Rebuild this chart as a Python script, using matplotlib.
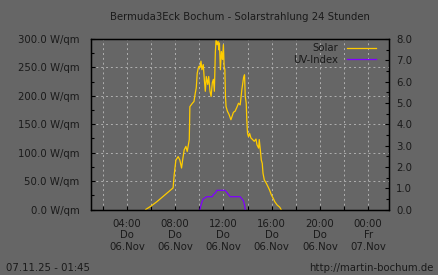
import matplotlib
matplotlib.use("Agg")
import matplotlib.pyplot as plt
from matplotlib.ticker import MultipleLocator, FixedLocator

# --- data (hours since 06.11 00:00) ---
solar_h = [5.56, 6.0, 6.5, 7.0, 7.5, 7.83, 7.92, 8.06, 8.25, 8.39, 8.53, 8.62, 8.75, 8.89, 9.00,
           9.17, 9.22, 9.43, 9.56, 9.67, 9.75, 9.83, 9.92, 9.98, 10.06, 10.14, 10.22, 10.33,
           10.42, 10.50, 10.58, 10.70, 10.78, 10.89, 10.98, 11.08, 11.17, 11.25, 11.33, 11.39,
           11.48, 11.56, 11.62, 11.67, 11.75, 11.83, 11.92, 12.0, 12.06, 12.12, 12.17, 12.22,
           12.33, 12.47, 12.62, 12.72, 12.83, 12.97, 13.12, 13.25, 13.39, 13.53, 13.67, 13.75,
           13.81, 13.89, 13.95, 14.0, 14.08, 14.17, 14.28, 14.42, 14.56, 14.70, 14.78, 14.92,
           14.97, 15.06, 15.14, 15.22, 15.28, 15.39, 15.56, 15.70, 15.83, 15.97, 16.12, 16.25,
           16.45, 16.67, 16.78]
solar_w = [0, 6, 14, 23, 32, 38, 61, 87, 93, 87, 73, 87, 105, 111, 102,
           123, 181, 187, 190, 205, 214, 240, 249, 252, 250, 261, 246, 255,
           228, 208, 234, 220, 234, 208, 199, 223, 229, 208, 276, 299,
           290, 296, 281, 293, 246, 278, 264, 290, 252, 246, 199, 181,
           173, 167, 158, 164, 171, 173, 180, 187, 184, 211, 232, 237,
           199, 187, 152, 134, 128, 134, 126, 123, 120, 124, 114, 108,
           123, 105, 87, 81, 64, 52, 46, 40, 34, 26, 20, 14,
           8, 4, 0]

uv_h = [10.06, 10.14, 10.25, 10.33, 10.62, 11.08, 11.17, 11.37, 11.45, 11.72, 11.87, 12.14,
        12.28, 12.56, 13.39, 13.53, 13.67, 13.75, 13.81]
uv_v = [0.0, 0.2, 0.4, 0.5, 0.6, 0.6, 0.7, 0.8, 0.9, 0.9, 0.9, 0.9,
        0.8, 0.6, 0.6, 0.5, 0.4, 0.2, 0.0]

tick_hours = [4, 8, 12, 16, 20, 24]
tick_labels = ["04:00\nDo\n06.Nov", "08:00\nDo\n06.Nov", "12:00\nDo\n06.Nov",
               "16:00\nDo\n06.Nov", "20:00\nDo\n06.Nov", "00:00\nFr\n07.Nov"]

title = "Bermuda3Eck Bochum - Solarstrahlung 24 Stunden"
stamp = "07.11.25 - 01:45"
url = "http://martin-bochum.de"

BG = "#666666"
TXT = "#1a1a1a"
FS = 7.3

plt.rcParams['font.family'] = ['DejaVu Sans']
fig = plt.figure(figsize=(4.38, 2.75), dpi=100, facecolor=BG)
ax = fig.add_axes([90.7/438, 1-209.5/275, (389.3-90.7)/438, (209.5-39)/275])
ax.set_facecolor(BG)
ax2 = ax.twinx()

ax.plot(solar_h, solar_w, color="#ffcc00", lw=0.9, label="Solar")
ax2.plot(uv_h, uv_v, color="#8000ff", lw=0.9, label="UV-Index")

ax.set_xlim(1.0, 25.75)
ax.set_ylim(0, 300)
ax2.set_ylim(0, 8)

ax.xaxis.set_major_locator(FixedLocator(tick_hours))
ax.set_xticklabels(tick_labels, fontsize=FS, color=TXT, linespacing=1.15)
ax.xaxis.set_minor_locator(MultipleLocator(2))
ax.yaxis.set_major_locator(MultipleLocator(50))
ax.yaxis.set_minor_locator(MultipleLocator(25))
ax.yaxis.set_major_formatter(lambda v, p: f"{v:.1f} W/qm")
ax2.yaxis.set_major_locator(MultipleLocator(1))
ax2.yaxis.set_minor_locator(MultipleLocator(0.5))
ax2.yaxis.set_major_formatter(lambda v, p: f"{v:.1f}")

ax.grid(True, axis='x', which='both', color="#b0b0b0", ls=(0, (2, 3)), lw=0.7)
ax.grid(True, axis='y', which='major', color="#b0b0b0", ls=(0, (2, 3)), lw=0.7)

ax.tick_params(axis='x', which='both', direction='in', length=3, width=0.8, pad=7,
               colors='black', labelcolor=TXT)
ax.tick_params(axis='y', which='major', direction='in', length=3, width=0.8, pad=8,
               labelsize=FS, colors='black', labelcolor=TXT)
ax.tick_params(axis='y', which='minor', direction='in', length=2, width=0.8, colors='black')
ax2.tick_params(axis='y', which='major', direction='in', length=3, width=0.8, pad=5,
                labelsize=FS, colors='black', labelcolor=TXT)
ax2.tick_params(axis='y', which='minor', direction='in', length=2, width=0.8, colors='black')
for a in (ax, ax2):
    for s in a.spines.values():
        s.set_color('black')
        s.set_linewidth(0.9)

h1, l1 = ax.get_legend_handles_labels()
h2, l2 = ax2.get_legend_handles_labels()
leg = ax2.legend(h1 + h2, l1 + l2, loc='upper right', frameon=False, markerfirst=False,
                 fontsize=FS, handlelength=2.9, handletextpad=0.9, labelspacing=0.15,
                 borderaxespad=0.3, borderpad=0.1,
                 bbox_to_anchor=(1 - 9/298.6, 1))
for t in leg.get_texts():
    t.set_color(TXT)

fig.text(240/438, 1-17/275, title, ha='center', va='center', fontsize=FS, color=TXT)
fig.text(6/438, 1-268/275, stamp, ha='left', va='center', fontsize=FS, color=TXT)
fig.text(434/438, 1-268/275, url, ha='right', va='center', fontsize=FS, color=TXT)

fig.savefig("out.png", dpi=100, facecolor=BG)
